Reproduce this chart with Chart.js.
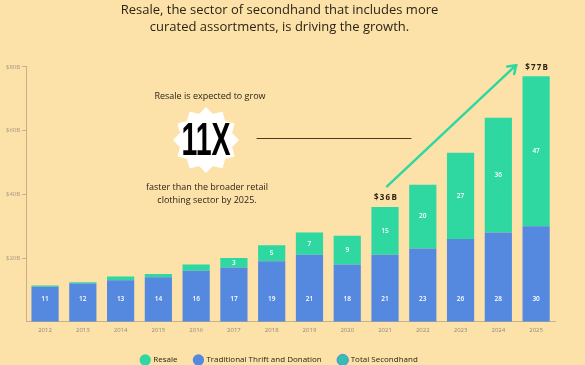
<!DOCTYPE html>
<html>
<head>
<meta charset="utf-8">
<script src="https://cdn.jsdelivr.net/npm/chart.js@4.4.0/dist/chart.umd.min.js"></script>
<style>
  html, body { margin: 0; padding: 0; background: #FCE1A9; }
  #wrap { width: 585px; height: 365px; position: relative; }
</style>
</head>
<body>
<div id="wrap"><canvas id="resaleChart"></canvas></div>
<script>
// Chart data
const years = ['2012', '2013', '2014', '2015', '2016', '2017', '2018', '2019', '2020', '2021', '2022', '2023', '2024', '2025'];
const traditional = [11, 12, 13, 14, 16, 17, 19, 21, 18, 21, 23, 26, 28, 30];
const resale = [0.4, 0.4, 1.2, 1, 2, 3, 5, 7, 9, 15, 20, 27, 36, 47];
const resaleLabels = ['', '', '', '', '', '3', '5', '7', '9', '15', '20', '27', '36', '47'];
const yTicks = [20, 40, 60, 80];

const GREEN = '#2ED8A0';
const BLUE = '#5589E0';
const INK = '#2b2415';

// Value labels inside bars + the call-out drawing
const overlayPlugin = {
    id: 'overlay',
    afterDatasetsDraw(chart) {
        const ctx = chart.ctx;
        const x = chart.scales.x;
        const y = chart.scales.y;

        ctx.save();
        ctx.fillStyle = '#ffffff';
        ctx.font = '600 6.5px "Open Sans", sans-serif';
        ctx.textAlign = 'center';
        ctx.textBaseline = 'middle';
        years.forEach((yr, i) => {
            const cx = x.getPixelForValue(i);
            ctx.fillText(String(traditional[i]), cx, y.getPixelForValue(7));
            if (resaleLabels[i]) {
                const mid = traditional[i] + resale[i] / 2;
                ctx.fillText(resaleLabels[i], cx, y.getPixelForValue(mid));
            }
        });

        // totals above 2021 and 2025
        ctx.fillStyle = INK;
        ctx.font = 'bold 8px "Open Sans", sans-serif';
        ctx.letterSpacing = '1.2px';
        const i21 = years.indexOf('2021');
        const i25 = years.indexOf('2025');
        ctx.fillText('$36B', x.getPixelForValue(i21) + 1, y.getPixelForValue(traditional[i21] + resale[i21]) - 9);
        ctx.fillText('$77B', x.getPixelForValue(i25) + 1, y.getPixelForValue(traditional[i25] + resale[i25]) - 9);
        ctx.letterSpacing = '0px';

        // growth arrow
        const ax0 = x.getPixelForValue(i21) + 2;
        const ay0 = y.getPixelForValue(42.5);
        const ax1 = x.getPixelForValue(i25) - 20;
        const ay1 = y.getPixelForValue(80.5);
        ctx.strokeStyle = GREEN;
        ctx.lineWidth = 2.5;
        ctx.lineCap = 'round';
        ctx.beginPath();
        ctx.moveTo(ax0, ay0);
        ctx.lineTo(ax1, ay1);
        ctx.stroke();
        const ang = Math.atan2(ay1 - ay0, ax1 - ax0);
        ctx.beginPath();
        ctx.moveTo(ax1 - 9 * Math.cos(ang - 0.6), ay1 - 9 * Math.sin(ang - 0.6));
        ctx.lineTo(ax1, ay1);
        ctx.lineTo(ax1 - 9 * Math.cos(ang + 0.6), ay1 - 9 * Math.sin(ang + 0.6));
        ctx.stroke();

        // horizontal rule
        ctx.strokeStyle = '#4a3a1e';
        ctx.lineWidth = 1;
        ctx.beginPath();
        ctx.moveTo(257, 138.5);
        ctx.lineTo(411, 138.5);
        ctx.stroke();

        // star badge
        const sx = 206, sy = 140, points = 12;
        ctx.fillStyle = '#ffffff';
        ctx.beginPath();
        for (let k = 0; k < points * 2; k++) {
            const r = k % 2 === 0 ? 33 : 27;
            const a = -Math.PI / 2 + k * Math.PI / points;
            const px = sx + r * Math.cos(a);
            const py = sy + r * Math.sin(a);
            if (k === 0) ctx.moveTo(px, py); else ctx.lineTo(px, py);
        }
        ctx.closePath();
        ctx.fill();

        // condensed "11X"
        ctx.save();
        ctx.translate(sx, sy + 2);
        ctx.scale(0.62, 1);
        ctx.fillStyle = '#000000';
        ctx.font = 'bold 46px "Liberation Sans Narrow", "Liberation Sans", sans-serif';
        ctx.fillText('11X', 0, 0);
        ctx.restore();

        // side texts
        ctx.fillStyle = INK;
        ctx.font = '9px "Open Sans", sans-serif';
        ctx.fillText('Resale is expected to grow', 210, 96);
        ctx.fillText('faster than the broader retail', 207, 187);
        ctx.fillText('clothing sector by 2025.', 207, 200);
        ctx.restore();
    }
};

const ctx = document.getElementById('resaleChart').getContext('2d');
const chart = new Chart(ctx, {
    type: 'bar',
    data: {
        labels: years,
        datasets: [
            {
                label: 'Traditional Thrift and Donation',
                data: traditional,
                backgroundColor: BLUE,
                borderWidth: 0
            },
            {
                label: 'Resale',
                data: resale,
                backgroundColor: GREEN,
                borderWidth: 0
            },
            {
                label: 'Total Secondhand',
                data: [],
                backgroundColor: '#33BFB0',
                borderColor: BLUE,
                borderWidth: 1
            }
        ]
    },
    options: {
        responsive: true,
        maintainAspectRatio: false,
        animation: false,
        barPercentage: 0.72,
        categoryPercentage: 1,
        layout: {
            padding: { left: 4, right: 30, top: 0, bottom: -9 }
        },
        plugins: {
            title: {
                display: true,
                text: ['Resale, the sector of secondhand that includes more', 'curated assortments, is driving the growth.'],
                color: INK,
                font: { family: '"Open Sans", sans-serif', size: 13, weight: 'normal', lineHeight: 1.3 },
                padding: { top: 2, bottom: 31 }
            },
            legend: {
                position: 'bottom',
                labels: {
                    usePointStyle: true,
                    pointStyle: 'circle',
                    boxWidth: 9,
                    boxHeight: 9,
                    padding: 17,
                    color: INK,
                    font: { family: '"Open Sans", sans-serif', size: 8 },
                    sort: (a, b) => {
                        const order = ['Resale', 'Traditional Thrift and Donation', 'Total Secondhand'];
                        return order.indexOf(a.text) - order.indexOf(b.text);
                    }
                }
            },
            tooltip: { enabled: false }
        },
        scales: {
            x: {
                stacked: true,
                grid: { display: false, drawTicks: false },
                border: { color: '#C7B08A', width: 1 },
                ticks: {
                    color: '#8f8a7a',
                    font: { family: '"Open Sans", sans-serif', size: 6 },
                    padding: 5
                }
            },
            y: {
                stacked: true,
                min: 0,
                max: 80,
                afterBuildTicks: axis => {
                    axis.ticks = yTicks.map(v => ({ value: v }));
                },
                grid: { drawOnChartArea: false, tickLength: 4, color: '#C7B08A' },
                border: { color: '#C7B08A', width: 1 },
                ticks: {
                    color: '#a39a86',
                    font: { family: '"Open Sans", sans-serif', size: 6 },
                    padding: 2,
                    callback: v => '$' + v + 'B'
                }
            }
        }
    },
    plugins: [overlayPlugin]
});
</script>
</body>
</html>
